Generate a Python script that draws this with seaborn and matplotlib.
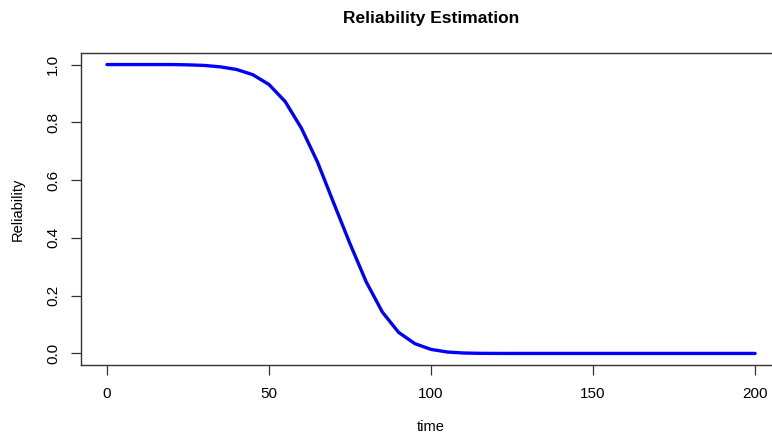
import matplotlib
matplotlib.use("Agg")
import matplotlib.pyplot as plt
import seaborn as sns
import pandas as pd

# values (every 5 time units)
time = [0, 5, 10, 15, 20, 25, 30, 35, 40, 45, 50, 55, 60, 65, 70, 75, 80,
        85, 90, 95, 100, 105, 110, 115, 120, 125, 130, 135, 140, 145, 150,
        155, 160, 165, 170, 175, 180, 185, 190, 195, 200]
reliability = [1.0, 1.0, 1.0, 1.0, 1.0, 0.999, 0.997, 0.992, 0.983, 0.965,
               0.931, 0.872, 0.780, 0.662, 0.520, 0.380, 0.248, 0.143, 0.073,
               0.034, 0.014, 0.005, 0.0015, 0.0004, 0.0001, 0.0, 0.0, 0.0,
               0.0, 0.0, 0.0, 0.0, 0.0, 0.0, 0.0, 0.0, 0.0, 0.0, 0.0, 0.0, 0.0]
x_ticks = [0, 50, 100, 150, 200]
y_ticks = [0.0, 0.2, 0.4, 0.6, 0.8, 1.0]

df = pd.DataFrame({"time": time, "Reliability": reliability})

sns.set_style("ticks")
plt.rcParams["font.family"] = ["Liberation Sans", "DejaVu Sans"]
plt.rcParams["text.color"] = "black"

W, H = 772, 433
fig = plt.figure(figsize=(W / 100, H / 100), dpi=100)
ax = fig.add_axes([81 / W, 1 - 365 / H, (781 - 81) / W, (365 - 53) / H])

sns.lineplot(data=df, x="time", y="Reliability", color="blue", linewidth=2.4, ax=ax)

ax.set_xlim(-8, 208)
ax.set_ylim(-0.04, 1.04)
ax.set_xticks(x_ticks)
ax.set_yticks(y_ticks)
ax.set_xticklabels([str(v) for v in x_ticks])
ax.set_yticklabels([f"{v:.1f}" for v in y_ticks], rotation=90, va="center")
ax.tick_params(axis="both", direction="out", length=7, width=0.9, colors="#333333",
               labelsize=11, labelcolor="black")
ax.tick_params(axis="x", pad=9)
ax.tick_params(axis="y", pad=8)
for sp in ax.spines.values():
    sp.set_visible(True)
    sp.set_color("#333333")
    sp.set_linewidth(1.0)
ax.spines["right"].set_visible(False)
ax.set_xlabel("")
ax.set_ylabel("")

fig.text(431 / W, 1 - 18 / H, "Reliability Estimation", ha="center", va="center",
         fontsize=12.5, fontweight="bold", color="black")
fig.text(431 / W, 1 - 427 / H, "time", ha="center", va="center", fontsize=10.5, color="black")
fig.text(18 / W, 1 - 209 / H, "Reliability", ha="center", va="center", rotation=90,
         fontsize=10.5, color="black")

fig.savefig("out.png", dpi=100)
